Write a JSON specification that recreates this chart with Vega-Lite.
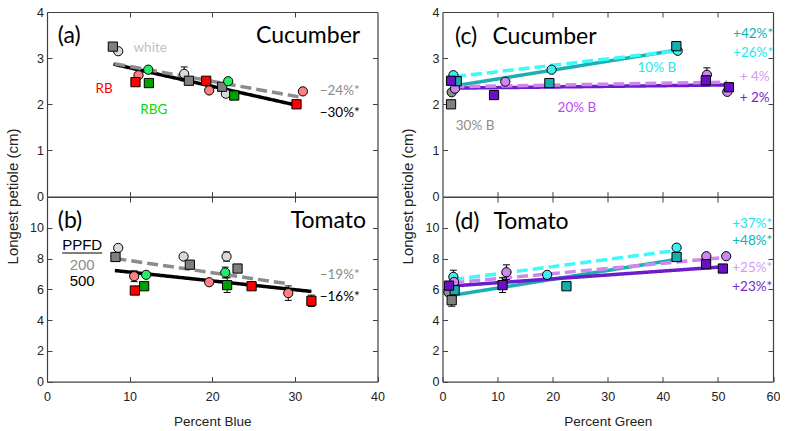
{
"$schema":"https://vega.github.io/schema/vega-lite/v6.json",
"padding":{"left":5,"top":6,"right":0,"bottom":0},
"background":"white",
"datasets":{
"pts":[
{"p":"a","s":"white 200","ppfd":"200","x":8.62,"y":3.15},
{"p":"a","s":"white 200","ppfd":"200","x":16.6,"y":2.66,"lo":2.51,"hi":2.81},
{"p":"a","s":"white 200","ppfd":"200","x":21.65,"y":2.23},
{"p":"a","s":"white 500","ppfd":"500","x":7.97,"y":3.25},
{"p":"a","s":"white 500","ppfd":"500","x":17.17,"y":2.51},
{"p":"a","s":"white 500","ppfd":"500","x":21.2,"y":2.38},
{"p":"a","s":"RB 200","ppfd":"200","x":11.08,"y":2.63},
{"p":"a","s":"RB 200","ppfd":"200","x":19.63,"y":2.3},
{"p":"a","s":"RB 200","ppfd":"200","x":30.97,"y":2.28},
{"p":"a","s":"RB 500","ppfd":"500","x":10.71,"y":2.48},
{"p":"a","s":"RB 500","ppfd":"500","x":19.27,"y":2.51},
{"p":"a","s":"RB 500","ppfd":"500","x":30.2,"y":2.0},
{"p":"a","s":"RBG 200","ppfd":"200","x":12.25,"y":2.75},
{"p":"a","s":"RBG 200","ppfd":"200","x":21.93,"y":2.5},
{"p":"a","s":"RBG 500","ppfd":"500","x":12.33,"y":2.46},
{"p":"a","s":"RBG 500","ppfd":"500","x":22.66,"y":2.19},
{"p":"b","s":"white 200","ppfd":"200","x":8.62,"y":8.69},
{"p":"b","s":"white 200","ppfd":"200","x":16.53,"y":8.13},
{"p":"b","s":"white 200","ppfd":"200","x":21.73,"y":8.13,"lo":7.83,"hi":8.43},
{"p":"b","s":"white 500","ppfd":"500","x":8.29,"y":8.1},
{"p":"b","s":"white 500","ppfd":"500","x":17.29,"y":7.6},
{"p":"b","s":"white 500","ppfd":"500","x":23.06,"y":7.35},
{"p":"b","s":"RB 200","ppfd":"200","x":10.55,"y":6.85,"lo":6.5,"hi":7.2},
{"p":"b","s":"RB 200","ppfd":"200","x":19.63,"y":6.46},
{"p":"b","s":"RB 200","ppfd":"200","x":29.2,"y":5.75,"lo":5.28,"hi":6.22},
{"p":"b","s":"RB 500","ppfd":"500","x":10.63,"y":5.92},
{"p":"b","s":"RB 500","ppfd":"500","x":24.76,"y":6.2},
{"p":"b","s":"RB 500","ppfd":"500","x":32.0,"y":5.25,"lo":4.88,"hi":5.62},
{"p":"b","s":"RBG 200","ppfd":"200","x":12.0,"y":6.94},
{"p":"b","s":"RBG 200","ppfd":"200","x":21.57,"y":7.09,"lo":6.74,"hi":7.44},
{"p":"b","s":"RBG 500","ppfd":"500","x":11.76,"y":6.2},
{"p":"b","s":"RBG 500","ppfd":"500","x":21.8,"y":6.27,"lo":5.79,"hi":6.75},
{"p":"c","s":"30% B 500","ppfd":"500","x":1.55,"y":2.0},
{"p":"c","s":"30% B 200","ppfd":"200","x":1.67,"y":2.26},
{"p":"c","s":"20% B 200","ppfd":"200","x":2.27,"y":2.34},
{"p":"c","s":"20% B 200","ppfd":"200","x":11.4,"y":2.49},
{"p":"c","s":"20% B 200","ppfd":"200","x":48.0,"y":2.64,"lo":2.49,"hi":2.79},
{"p":"c","s":"20% B 200","ppfd":"200","x":51.7,"y":2.27},
{"p":"c","s":"10% B 200","ppfd":"200","x":1.97,"y":2.63},
{"p":"c","s":"10% B 200","ppfd":"200","x":19.8,"y":2.75},
{"p":"c","s":"10% B 200","ppfd":"200","x":42.7,"y":3.16},
{"p":"c","s":"10% B 500","ppfd":"500","x":2.58,"y":2.5},
{"p":"c","s":"10% B 500","ppfd":"500","x":19.4,"y":2.46},
{"p":"c","s":"10% B 500","ppfd":"500","x":42.45,"y":3.26},
{"p":"c","s":"20% B 500","ppfd":"500","x":1.55,"y":2.51},
{"p":"c","s":"20% B 500","ppfd":"500","x":9.36,"y":2.2},
{"p":"c","s":"20% B 500","ppfd":"500","x":47.8,"y":2.52},
{"p":"c","s":"20% B 500","ppfd":"500","x":52.0,"y":2.37},
{"p":"d","s":"30% B 200","ppfd":"200","x":1.06,"y":5.81},
{"p":"d","s":"30% B 500","ppfd":"500","x":1.67,"y":5.29,"lo":4.9,"hi":5.68},
{"p":"d","s":"10% B 200","ppfd":"200","x":1.97,"y":6.81,"lo":6.38,"hi":7.24},
{"p":"d","s":"10% B 200","ppfd":"200","x":19.0,"y":6.94},
{"p":"d","s":"10% B 200","ppfd":"200","x":42.5,"y":8.71},
{"p":"d","s":"20% B 200","ppfd":"200","x":2.1,"y":6.48},
{"p":"d","s":"20% B 200","ppfd":"200","x":11.6,"y":7.11,"lo":6.63,"hi":7.59},
{"p":"d","s":"20% B 200","ppfd":"200","x":47.9,"y":8.15},
{"p":"d","s":"20% B 200","ppfd":"200","x":51.5,"y":8.15},
{"p":"d","s":"10% B 500","ppfd":"500","x":2.2,"y":5.94},
{"p":"d","s":"10% B 500","ppfd":"500","x":22.5,"y":6.2},
{"p":"d","s":"10% B 500","ppfd":"500","x":42.5,"y":8.1},
{"p":"d","s":"20% B 500","ppfd":"500","x":1.18,"y":6.24},
{"p":"d","s":"20% B 500","ppfd":"500","x":10.9,"y":6.27,"lo":5.79,"hi":6.75},
{"p":"d","s":"20% B 500","ppfd":"500","x":47.85,"y":7.63},
{"p":"d","s":"20% B 500","ppfd":"500","x":50.9,"y":7.35}
],
"fits":[
{"p":"a","s":"fit 500","ppfd":"500","x":8.05,"y":2.87},
{"p":"a","s":"fit 500","ppfd":"500","x":30.2,"y":1.98},
{"p":"a","s":"fit 200","ppfd":"200","x":8.17,"y":2.88},
{"p":"a","s":"fit 200","ppfd":"200","x":30.5,"y":2.16},
{"p":"b","s":"fit 500","ppfd":"500","x":8.21,"y":7.22},
{"p":"b","s":"fit 500","ppfd":"500","x":32.0,"y":5.86},
{"p":"b","s":"fit 200","ppfd":"200","x":8.29,"y":8.0},
{"p":"b","s":"fit 200","ppfd":"200","x":29.3,"y":6.35},
{"p":"c","s":"10% B 500","ppfd":"500","x":2.27,"y":2.4},
{"p":"c","s":"10% B 500","ppfd":"500","x":42.3,"y":3.17},
{"p":"c","s":"10% B 200","ppfd":"200","x":2.27,"y":2.6},
{"p":"c","s":"10% B 200","ppfd":"200","x":42.0,"y":3.15},
{"p":"c","s":"20% B 500","ppfd":"500","x":1.97,"y":2.35},
{"p":"c","s":"20% B 500","ppfd":"500","x":51.7,"y":2.42},
{"p":"c","s":"20% B 200","ppfd":"200","x":1.97,"y":2.38},
{"p":"c","s":"20% B 200","ppfd":"200","x":51.7,"y":2.48},
{"p":"d","s":"10% B 500","ppfd":"500","x":2.0,"y":5.62},
{"p":"d","s":"10% B 500","ppfd":"500","x":42.45,"y":7.94},
{"p":"d","s":"20% B 500","ppfd":"500","x":1.06,"y":6.2},
{"p":"d","s":"20% B 500","ppfd":"500","x":50.9,"y":7.46},
{"p":"d","s":"10% B 200","ppfd":"200","x":1.97,"y":6.63},
{"p":"d","s":"10% B 200","ppfd":"200","x":42.45,"y":8.53},
{"p":"d","s":"20% B 200","ppfd":"200","x":1.97,"y":6.42},
{"p":"d","s":"20% B 200","ppfd":"200","x":51.5,"y":8.08}
],
"labs":[
{"p":"a","t":"white","s":"lab white","x":10.47,"y":3.21},
{"p":"a","t":"RB","s":"lab RB","x":5.87,"y":2.34},
{"p":"a","t":"RBG","s":"lab RBG","x":11.3,"y":1.885},
{"p":"a","t":"−24%*","s":"lab 200","x":33.0,"y":2.29},
{"p":"a","t":"−30%*","s":"lab 500","x":33.0,"y":1.82},
{"p":"b","t":"−19%*","s":"lab 200","x":33.0,"y":6.91},
{"p":"b","t":"−16%*","s":"lab 500","x":33.0,"y":5.49},
{"p":"c","t":"10% B","s":"lab 10% B 200","x":35.4,"y":2.78},
{"p":"c","t":"20% B","s":"lab 20% B","x":20.9,"y":1.92},
{"p":"c","t":"30% B","s":"lab 30% B","x":2.4,"y":1.53},
{"p":"c","t":"+42%*","s":"lab 10% B 500","x":52.76,"y":3.53},
{"p":"c","t":"+26%*","s":"lab 10% B 200","x":52.76,"y":3.12},
{"p":"c","t":"+ 4%","s":"lab 20% B 200","x":53.96,"y":2.585},
{"p":"c","t":"+ 2%","s":"lab 20% B 500","x":53.96,"y":2.145},
{"p":"d","t":"+37%*","s":"lab 10% B 200","x":52.6,"y":10.27},
{"p":"d","t":"+48%*","s":"lab 10% B 500","x":52.6,"y":9.16},
{"p":"d","t":"+25%*","s":"lab 20% B 200","x":52.6,"y":7.37},
{"p":"d","t":"+23%*","s":"lab 20% B 500","x":52.6,"y":6.18}
],
"heads":[
{"p":"a","t":"(a)","x":1.3,"y":3.47},
{"p":"a","t":"Cucumber","x":25.3,"y":3.47},
{"p":"b","t":"(b)","x":1.3,"y":10.42},
{"p":"b","t":"Tomato","x":29.5,"y":10.42},
{"p":"c","t":"(c)","x":2.27,"y":3.45},
{"p":"c","t":"Cucumber","x":9.06,"y":3.45},
{"p":"d","t":"(d)","x":2.27,"y":10.4},
{"p":"d","t":"Tomato","x":9.24,"y":10.4}
],
"ppfd":[
{"t":"PPFD","s":"lab 500","x":4.26,"y":8.9},
{"t":"200","s":"lab 200","x":4.26,"y":7.59},
{"t":"500","s":"lab 500","x":4.26,"y":6.52}
]
},
"concat":[
{"width":330.5,"height":184.6,
"layer":[
{"data":{"name":"fits"},"transform":[{"filter":"datum.p=='a'"}],
"mark":{"type":"line","strokeWidth":3.5,"strokeCap":"butt"},
"encoding":{
"x":{"field":"x","type":"quantitative","scale":{"domain":[0,40],"nice":false,"zero":false},"axis":{"orient":"top","labels":false,"title":null,"values":[10,20,30]}},
"y":{"field":"y","type":"quantitative","scale":{"domain":[0,4],"nice":false,"zero":false},"axis":{"orient":"right","labels":false,"title":null,"values":[1,2,3]}},
"stroke":{"field":"s","type":"nominal","legend":null,"scale":{"domain":["fit 200","fit 500","10% B 200","10% B 500","20% B 200","20% B 500"],"range":["#8C8C8C","#000000","#3CFAFA","#1CAFAF","#CC88EE","#6C1CC8"]}},
"strokeDash":{"field":"ppfd","type":"nominal","legend":null,"scale":{"domain":["200","500"],"range":[[11,5],[1,0]]}}}},
{"data":{"name":"pts"},"transform":[{"filter":"datum.p=='a' && isValid(datum.lo)"}],
"mark":{"type":"rule","color":"#000","strokeWidth":1},
"encoding":{"x":{"field":"x","type":"quantitative","axis":null},"y":{"field":"lo","type":"quantitative","axis":null},"y2":{"field":"hi"}}},
{"data":{"name":"pts"},"transform":[{"filter":"datum.p=='a' && isValid(datum.lo)"}],
"mark":{"type":"tick","orient":"horizontal","size":7,"thickness":1,"color":"#000","opacity":1},
"encoding":{"x":{"field":"x","type":"quantitative","axis":null},"y":{"field":"hi","type":"quantitative","axis":null}}},
{"data":{"name":"pts"},"transform":[{"filter":"datum.p=='a' && isValid(datum.lo)"}],
"mark":{"type":"tick","orient":"horizontal","size":7,"thickness":1,"color":"#000","opacity":1},
"encoding":{"x":{"field":"x","type":"quantitative","axis":null},"y":{"field":"lo","type":"quantitative","axis":null}}},
{"data":{"name":"pts"},"transform":[{"filter":"datum.p=='a'"}],
"mark":{"type":"point","filled":true,"size":85,"stroke":"#000","strokeWidth":1,"opacity":1},
"encoding":{
"x":{"field":"x","type":"quantitative","axis":{"orient":"bottom","labels":false,"title":null,"values":[10,20,30]}},
"y":{"field":"y","type":"quantitative","axis":{"orient":"left","values":[0,1,2,3,4],"title":"Longest petiole (cm)","titleX":-30,"titleY":184,"titleAngle":-90,"titleAlign":"center","titleBaseline":"alphabetic","titleFontSize":15}},
"fill":{"field":"s","type":"nominal","legend":null,"scale":{"domain":["white 200","white 500","RB 200","RB 500","RBG 200","RBG 500","10% B 200","10% B 500","20% B 200","20% B 500","30% B 200","30% B 500","lab white","lab RB","lab RBG","lab 200","lab 500","lab 10% B 200","lab 10% B 500","lab 20% B 200","lab 20% B 500","lab 20% B","lab 30% B"],"range":["#D9D9D9","#7F7F7F","#FF8080","#FF0000","#22EE66","#00A000","#40F0F0","#16AEAE","#CC88EE","#6A10C6","#8C8C8C","#808080","#BFBFBF","#FF0000","#00E000","#8C8C8C","#000000","#22E6EE","#0DB2B2","#D49BF4","#7427CC","#C446F8","#8C8C8C"]}},
"shape":{"field":"ppfd","type":"nominal","legend":null,"scale":{"domain":["200","500"],"range":["circle","square"]}}}},
{"data":{"name":"labs"},"transform":[{"filter":"datum.p=='a'"}],
"mark":{"type":"text","font":"Lato","fontSize":13.5,"align":"left","baseline":"middle"},
"encoding":{"x":{"field":"x","type":"quantitative","axis":null},"y":{"field":"y","type":"quantitative","axis":null},"text":{"field":"t"},"fill":{"field":"s","type":"nominal","legend":null}}},
{"data":{"name":"heads"},"transform":[{"filter":"datum.p=='a'"}],
"mark":{"type":"text","font":"Lato","fontSize":23,"align":"left","baseline":"middle","color":"#000"},
"encoding":{"x":{"field":"x","type":"quantitative","axis":null},"y":{"field":"y","type":"quantitative","axis":null},"text":{"field":"t"}}}
],
"resolve":{"axis":{"x":"independent","y":"independent"}}},

{"width":330.5,"height":184.6,
"layer":[
{"data":{"name":"fits"},"transform":[{"filter":"datum.p=='c'"}],
"mark":{"type":"line","strokeWidth":3.5,"strokeCap":"butt"},
"encoding":{
"x":{"field":"x","type":"quantitative","scale":{"domain":[0,60],"nice":false,"zero":false},"axis":{"orient":"top","labels":false,"title":null,"values":[10,20,30,40,50]}},
"y":{"field":"y","type":"quantitative","scale":{"domain":[0,4],"nice":false,"zero":false},"axis":{"orient":"right","labels":false,"title":null,"values":[1,2,3]}},
"stroke":{"field":"s","type":"nominal","legend":null,"scale":{"domain":["fit 200","fit 500","10% B 200","10% B 500","20% B 200","20% B 500"],"range":["#8C8C8C","#000000","#3CFAFA","#1CAFAF","#CC88EE","#6C1CC8"]}},
"strokeDash":{"field":"ppfd","type":"nominal","legend":null,"scale":{"domain":["200","500"],"range":[[11,5],[1,0]]}}}},
{"data":{"name":"pts"},"transform":[{"filter":"datum.p=='c' && isValid(datum.lo)"}],
"mark":{"type":"rule","color":"#000","strokeWidth":1},
"encoding":{"x":{"field":"x","type":"quantitative","axis":null},"y":{"field":"lo","type":"quantitative","axis":null},"y2":{"field":"hi"}}},
{"data":{"name":"pts"},"transform":[{"filter":"datum.p=='c' && isValid(datum.lo)"}],
"mark":{"type":"tick","orient":"horizontal","size":7,"thickness":1,"color":"#000","opacity":1},
"encoding":{"x":{"field":"x","type":"quantitative","axis":null},"y":{"field":"hi","type":"quantitative","axis":null}}},
{"data":{"name":"pts"},"transform":[{"filter":"datum.p=='c' && isValid(datum.lo)"}],
"mark":{"type":"tick","orient":"horizontal","size":7,"thickness":1,"color":"#000","opacity":1},
"encoding":{"x":{"field":"x","type":"quantitative","axis":null},"y":{"field":"lo","type":"quantitative","axis":null}}},
{"data":{"name":"pts"},"transform":[{"filter":"datum.p=='c'"}],
"mark":{"type":"point","filled":true,"size":85,"stroke":"#000","strokeWidth":1,"opacity":1},
"encoding":{
"x":{"field":"x","type":"quantitative","axis":{"orient":"bottom","labels":false,"title":null,"values":[10,20,30,40,50]}},
"y":{"field":"y","type":"quantitative","axis":{"orient":"left","values":[0,1,2,3,4],"title":"Longest petiole (cm)","titleX":-30,"titleY":184,"titleAngle":-90,"titleAlign":"center","titleBaseline":"alphabetic","titleFontSize":15}},
"fill":{"field":"s","type":"nominal","legend":null,"scale":{"domain":["white 200","white 500","RB 200","RB 500","RBG 200","RBG 500","10% B 200","10% B 500","20% B 200","20% B 500","30% B 200","30% B 500","lab white","lab RB","lab RBG","lab 200","lab 500","lab 10% B 200","lab 10% B 500","lab 20% B 200","lab 20% B 500","lab 20% B","lab 30% B"],"range":["#D9D9D9","#7F7F7F","#FF8080","#FF0000","#22EE66","#00A000","#40F0F0","#16AEAE","#CC88EE","#6A10C6","#8C8C8C","#808080","#BFBFBF","#FF0000","#00E000","#8C8C8C","#000000","#22E6EE","#0DB2B2","#D49BF4","#7427CC","#C446F8","#8C8C8C"]}},
"shape":{"field":"ppfd","type":"nominal","legend":null,"scale":{"domain":["200","500"],"range":["circle","square"]}}}},
{"data":{"name":"labs"},"transform":[{"filter":"datum.p=='c'"}],
"mark":{"type":"text","font":"Lato","fontSize":13.5,"align":"left","baseline":"middle"},
"encoding":{"x":{"field":"x","type":"quantitative","axis":null},"y":{"field":"y","type":"quantitative","axis":null},"text":{"field":"t"},"fill":{"field":"s","type":"nominal","legend":null}}},
{"data":{"name":"heads"},"transform":[{"filter":"datum.p=='c'"}],
"mark":{"type":"text","font":"Lato","fontSize":23,"align":"left","baseline":"middle","color":"#000"},
"encoding":{"x":{"field":"x","type":"quantitative","axis":null},"y":{"field":"y","type":"quantitative","axis":null},"text":{"field":"t"}}}
],
"resolve":{"axis":{"x":"independent","y":"independent"}}},

{"width":330.5,"height":184.6,
"layer":[
{"data":{"name":"fits"},"transform":[{"filter":"datum.p=='b'"}],
"mark":{"type":"line","strokeWidth":3.5,"strokeCap":"butt"},
"encoding":{
"x":{"field":"x","type":"quantitative","scale":{"domain":[0,40],"nice":false,"zero":false},"axis":{"orient":"top","labels":false,"title":null,"values":[10,20,30]}},
"y":{"field":"y","type":"quantitative","scale":{"domain":[0,12],"nice":false,"zero":false},"axis":{"orient":"right","labels":false,"title":null,"values":[2,4,6,8,10]}},
"stroke":{"field":"s","type":"nominal","legend":null,"scale":{"domain":["fit 200","fit 500","10% B 200","10% B 500","20% B 200","20% B 500"],"range":["#8C8C8C","#000000","#3CFAFA","#1CAFAF","#CC88EE","#6C1CC8"]}},
"strokeDash":{"field":"ppfd","type":"nominal","legend":null,"scale":{"domain":["200","500"],"range":[[11,5],[1,0]]}}}},
{"data":{"name":"pts"},"transform":[{"filter":"datum.p=='b' && isValid(datum.lo)"}],
"mark":{"type":"rule","color":"#000","strokeWidth":1},
"encoding":{"x":{"field":"x","type":"quantitative","axis":null},"y":{"field":"lo","type":"quantitative","axis":null},"y2":{"field":"hi"}}},
{"data":{"name":"pts"},"transform":[{"filter":"datum.p=='b' && isValid(datum.lo)"}],
"mark":{"type":"tick","orient":"horizontal","size":7,"thickness":1,"color":"#000","opacity":1},
"encoding":{"x":{"field":"x","type":"quantitative","axis":null},"y":{"field":"hi","type":"quantitative","axis":null}}},
{"data":{"name":"pts"},"transform":[{"filter":"datum.p=='b' && isValid(datum.lo)"}],
"mark":{"type":"tick","orient":"horizontal","size":7,"thickness":1,"color":"#000","opacity":1},
"encoding":{"x":{"field":"x","type":"quantitative","axis":null},"y":{"field":"lo","type":"quantitative","axis":null}}},
{"data":{"name":"pts"},"transform":[{"filter":"datum.p=='b'"}],
"mark":{"type":"point","filled":true,"size":85,"stroke":"#000","strokeWidth":1,"opacity":1},
"encoding":{
"x":{"field":"x","type":"quantitative","axis":{"orient":"bottom","values":[0,10,20,30,40],"title":"Percent Blue","titleY":44,"titleBaseline":"alphabetic","titleFontSize":13.5}},
"y":{"field":"y","type":"quantitative","axis":{"orient":"left","values":[0,2,4,6,8,10],"title":null}},
"fill":{"field":"s","type":"nominal","legend":null,"scale":{"domain":["white 200","white 500","RB 200","RB 500","RBG 200","RBG 500","10% B 200","10% B 500","20% B 200","20% B 500","30% B 200","30% B 500","lab white","lab RB","lab RBG","lab 200","lab 500","lab 10% B 200","lab 10% B 500","lab 20% B 200","lab 20% B 500","lab 20% B","lab 30% B"],"range":["#D9D9D9","#7F7F7F","#FF8080","#FF0000","#22EE66","#00A000","#40F0F0","#16AEAE","#CC88EE","#6A10C6","#8C8C8C","#808080","#BFBFBF","#FF0000","#00E000","#8C8C8C","#000000","#22E6EE","#0DB2B2","#D49BF4","#7427CC","#C446F8","#8C8C8C"]}},
"shape":{"field":"ppfd","type":"nominal","legend":null,"scale":{"domain":["200","500"],"range":["circle","square"]}}}},
{"data":{"name":"labs"},"transform":[{"filter":"datum.p=='b'"}],
"mark":{"type":"text","font":"Lato","fontSize":13.5,"align":"left","baseline":"middle"},
"encoding":{"x":{"field":"x","type":"quantitative","axis":null},"y":{"field":"y","type":"quantitative","axis":null},"text":{"field":"t"},"fill":{"field":"s","type":"nominal","legend":null}}},
{"data":{"name":"ppfd"},
"mark":{"type":"text","font":"Liberation Sans","fontSize":15,"align":"center","baseline":"middle"},
"encoding":{"x":{"field":"x","type":"quantitative","axis":null},"y":{"field":"y","type":"quantitative","axis":null},"text":{"field":"t"},"fill":{"field":"s","type":"nominal","legend":null}}},
{"data":{"values":[{"x":1.84,"x2":6.68,"y":8.36}]},
"mark":{"type":"rule","color":"#000","strokeWidth":1.2},
"encoding":{"x":{"field":"x","type":"quantitative","axis":null},"x2":{"field":"x2"},"y":{"field":"y","type":"quantitative","axis":null}}},
{"data":{"name":"heads"},"transform":[{"filter":"datum.p=='b'"}],
"mark":{"type":"text","font":"Lato","fontSize":23,"align":"left","baseline":"middle","color":"#000"},
"encoding":{"x":{"field":"x","type":"quantitative","axis":null},"y":{"field":"y","type":"quantitative","axis":null},"text":{"field":"t"}}}
],
"resolve":{"axis":{"x":"independent","y":"independent"}}},

{"width":330.5,"height":184.6,
"layer":[
{"data":{"name":"fits"},"transform":[{"filter":"datum.p=='d'"}],
"mark":{"type":"line","strokeWidth":3.5,"strokeCap":"butt"},
"encoding":{
"x":{"field":"x","type":"quantitative","scale":{"domain":[0,60],"nice":false,"zero":false},"axis":{"orient":"top","labels":false,"title":null,"values":[10,20,30,40,50]}},
"y":{"field":"y","type":"quantitative","scale":{"domain":[0,12],"nice":false,"zero":false},"axis":{"orient":"right","labels":false,"title":null,"values":[2,4,6,8,10]}},
"stroke":{"field":"s","type":"nominal","legend":null,"scale":{"domain":["fit 200","fit 500","10% B 200","10% B 500","20% B 200","20% B 500"],"range":["#8C8C8C","#000000","#3CFAFA","#1CAFAF","#CC88EE","#6C1CC8"]}},
"strokeDash":{"field":"ppfd","type":"nominal","legend":null,"scale":{"domain":["200","500"],"range":[[11,5],[1,0]]}}}},
{"data":{"name":"pts"},"transform":[{"filter":"datum.p=='d' && isValid(datum.lo)"}],
"mark":{"type":"rule","color":"#000","strokeWidth":1},
"encoding":{"x":{"field":"x","type":"quantitative","axis":null},"y":{"field":"lo","type":"quantitative","axis":null},"y2":{"field":"hi"}}},
{"data":{"name":"pts"},"transform":[{"filter":"datum.p=='d' && isValid(datum.lo)"}],
"mark":{"type":"tick","orient":"horizontal","size":7,"thickness":1,"color":"#000","opacity":1},
"encoding":{"x":{"field":"x","type":"quantitative","axis":null},"y":{"field":"hi","type":"quantitative","axis":null}}},
{"data":{"name":"pts"},"transform":[{"filter":"datum.p=='d' && isValid(datum.lo)"}],
"mark":{"type":"tick","orient":"horizontal","size":7,"thickness":1,"color":"#000","opacity":1},
"encoding":{"x":{"field":"x","type":"quantitative","axis":null},"y":{"field":"lo","type":"quantitative","axis":null}}},
{"data":{"name":"pts"},"transform":[{"filter":"datum.p=='d'"}],
"mark":{"type":"point","filled":true,"size":85,"stroke":"#000","strokeWidth":1,"opacity":1},
"encoding":{
"x":{"field":"x","type":"quantitative","axis":{"orient":"bottom","values":[0,10,20,30,40,50,60],"title":"Percent Green","titleY":44,"titleBaseline":"alphabetic","titleFontSize":13.5}},
"y":{"field":"y","type":"quantitative","axis":{"orient":"left","values":[0,2,4,6,8,10],"title":null}},
"fill":{"field":"s","type":"nominal","legend":null,"scale":{"domain":["white 200","white 500","RB 200","RB 500","RBG 200","RBG 500","10% B 200","10% B 500","20% B 200","20% B 500","30% B 200","30% B 500","lab white","lab RB","lab RBG","lab 200","lab 500","lab 10% B 200","lab 10% B 500","lab 20% B 200","lab 20% B 500","lab 20% B","lab 30% B"],"range":["#D9D9D9","#7F7F7F","#FF8080","#FF0000","#22EE66","#00A000","#40F0F0","#16AEAE","#CC88EE","#6A10C6","#8C8C8C","#808080","#BFBFBF","#FF0000","#00E000","#8C8C8C","#000000","#22E6EE","#0DB2B2","#D49BF4","#7427CC","#C446F8","#8C8C8C"]}},
"shape":{"field":"ppfd","type":"nominal","legend":null,"scale":{"domain":["200","500"],"range":["circle","square"]}}}},
{"data":{"name":"labs"},"transform":[{"filter":"datum.p=='d'"}],
"mark":{"type":"text","font":"Lato","fontSize":13.5,"align":"left","baseline":"middle"},
"encoding":{"x":{"field":"x","type":"quantitative","axis":null},"y":{"field":"y","type":"quantitative","axis":null},"text":{"field":"t"},"fill":{"field":"s","type":"nominal","legend":null}}},
{"data":{"name":"heads"},"transform":[{"filter":"datum.p=='d'"}],
"mark":{"type":"text","font":"Lato","fontSize":23,"align":"left","baseline":"middle","color":"#000"},
"encoding":{"x":{"field":"x","type":"quantitative","axis":null},"y":{"field":"y","type":"quantitative","axis":null},"text":{"field":"t"}}}
],
"resolve":{"axis":{"x":"independent","y":"independent"}}}
],
"columns":2,
"spacing":{"row":0,"column":64.5},
"bounds":"flush",
"config":{
"view":{"stroke":null},
"font":"Liberation Sans",
"axis":{"grid":false,"domainColor":"#404040","domainWidth":1.2,"tickColor":"#404040","tickWidth":1,"tickSize":-5,"labelFont":"Liberation Sans","labelFontSize":12.5,"labelColor":"#222222","labelFlush":false,"labelOverlap":false,"titleFont":"Liberation Sans","titleFontWeight":"normal","titleColor":"#222222"},
"axisX":{"labelPadding":13.5},
"axisY":{"labelPadding":8.5}
}
}
